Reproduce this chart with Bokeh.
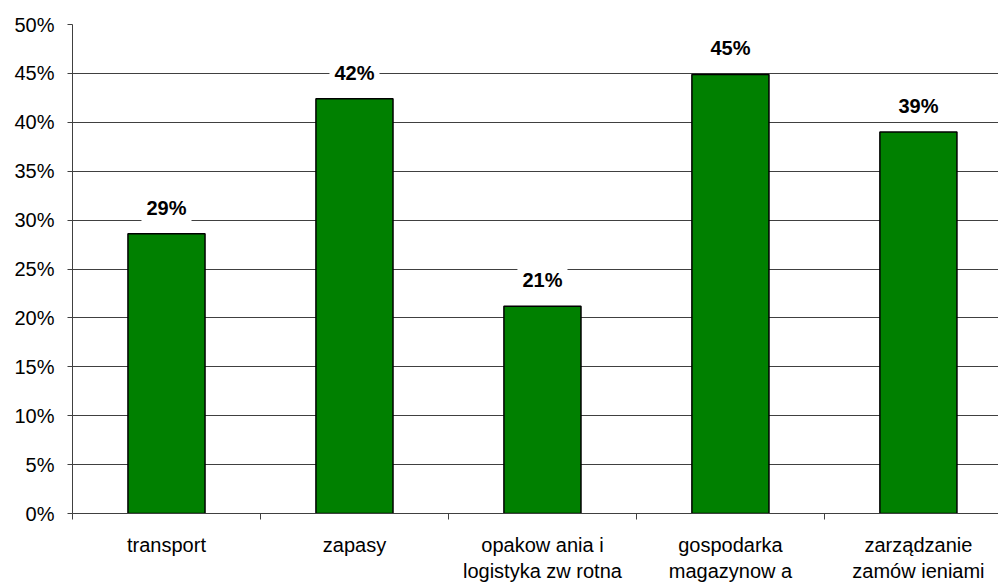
from bokeh.plotting import figure
from bokeh.models import FixedTicker, NumeralTickFormatter, ColumnDataSource, Label, Range1d
from bokeh.embed import file_html
from bokeh.resources import INLINE

categories = ["transport", "zapasy", "opakow ania i\nlogistyka zw rotna",
              "gospodarka\nmagazynow a", "zarządzanie\nzamów ieniami"]
values = [0.286, 0.424, 0.212, 0.449, 0.390]
y_ticks = [0.0, 0.05, 0.10, 0.15, 0.20, 0.25, 0.30, 0.35, 0.40, 0.45, 0.50]

FONT = "Liberation Sans"
GRID = "#404040"

xs = [i + 0.5 for i in range(len(categories))]
labels = [f"{round(v * 100)}%" for v in values]
src = ColumnDataSource(dict(x=xs, top=values, label=labels))

p = figure(width=998, height=584, output_backend="svg", toolbar_location=None,
           x_range=Range1d(0, 4.926), y_range=Range1d(0, 0.5),
           min_border_left=72, min_border_right=0, min_border_top=24, min_border_bottom=0)
p.outline_line_color = None
p.background_fill_color = "white"
p.border_fill_color = "white"

p.vbar(x="x", top="top", bottom=0, width=0.41, source=src,
       fill_color="#008000", line_color="#000000", line_width=1.5)

for x, v, t in zip(xs, values, labels):
    p.add_layout(Label(x=x, y=v, text=t, y_offset=26, text_align="center",
                       text_baseline="middle", text_font=FONT, text_font_size="20px",
                       text_font_style="bold", text_color="#000000",
                       background_fill_color="white", padding=5))

# y axis
p.yaxis.ticker = FixedTicker(ticks=y_ticks)
p.yaxis.formatter = NumeralTickFormatter(format="0%")
p.yaxis.major_label_text_font = FONT
p.yaxis.major_label_text_font_size = "20px"
p.yaxis.major_label_text_color = "#000000"
p.yaxis.major_tick_out = 5
p.yaxis.major_tick_in = 0
p.yaxis.minor_tick_line_color = None
p.yaxis.major_label_standoff = 13
p.yaxis.axis_line_color = GRID
p.yaxis.major_tick_line_color = GRID

# x axis
p.xaxis.ticker = FixedTicker(ticks=xs, minor_ticks=[0, 1, 2, 3, 4])
p.xaxis.major_label_overrides = {x: c for x, c in zip(xs, categories)}
p.xaxis.major_tick_line_color = None
p.xaxis.minor_tick_line_color = GRID
p.xaxis.minor_tick_out = 6
p.xaxis.minor_tick_in = 0
p.xaxis.major_label_standoff = 14
p.xaxis.major_label_text_font = FONT
p.xaxis.major_label_text_font_size = "20px"
p.xaxis.major_label_text_color = "#000000"
p.xaxis.major_label_text_line_height = 1.2
p.xaxis.axis_line_color = GRID

p.xgrid.grid_line_color = None
p.ygrid.ticker = FixedTicker(ticks=y_ticks)
p.ygrid.grid_line_color = GRID
p.ygrid.grid_line_width = 1

open("out.html", "w").write(file_html(p, INLINE))
